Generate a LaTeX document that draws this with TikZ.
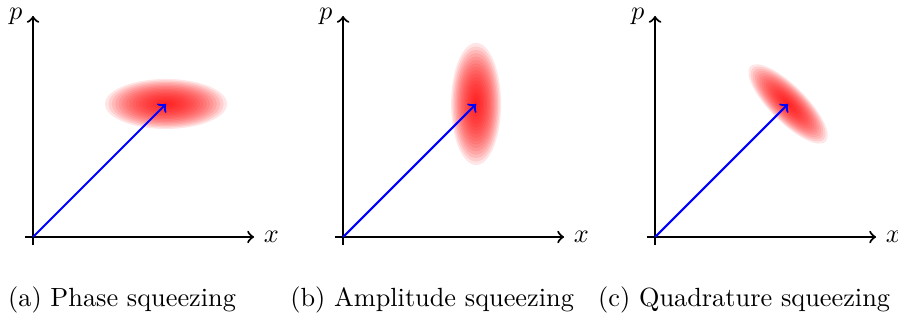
\documentclass[tikz,border=0pt]{standalone}
\usepackage{amsmath}
\usetikzlibrary{positioning}
\colorlet{veccol}{blue}
\colorlet{blobcol}{red}
\tikzstyle{axis}=[->,thick,black]
\tikzstyle{vector}=[->,thick,veccol]
\tikzset{
  blob/.style={fill=blobcol,fill opacity=#1,draw=none},
  blob/.default=0.1}
\begin{document}
\begin{tikzpicture}
  \def\len{2.953}
  \def\tail{0.107}
  \def\ax{1.777}
  \def\NB{18}
  \useasboundingbox (-0.441,-1.122) rectangle (11.556,3.166);

  \foreach \name/\sx/\rot/\ra/\rb/\captext in {
      a/0/0/0.815/0.334/Phase squeezing,
      b/4.142/90/0.815/0.334/Amplitude squeezing,
      c/8.31/-45/0.71/0.24/Quadrature squeezing}{
    \begin{scope}[xshift=\sx cm]
      \coordinate (O\name) at (0,0);
      \coordinate (X\name) at (\len,0);
      \coordinate (Y\name) at (0,\len);
      \coordinate (P\name) at (\ax,\ax);

      % SQUEEZED STATE
      \foreach \k [evaluate={\s=1-(\k-1)/\NB;}] in {1,...,\NB}{
        \fill[blob,rotate around={\rot:(\ax,\ax)}]
          (\ax,\ax) ellipse ({\s*\ra} and {\s*\rb});
      }

      % AXES
      \draw[axis] (-\tail,0) -- (X\name) node[right] (xl\name) {$x$};
      \draw[axis] (0,-\tail) -- (Y\name);
      \node[inner sep=0pt] (pl\name) at (-0.23,2.95) {$p$};

      % AMPLITUDE
      \draw[vector] (O\name) -- (P\name);

      \node (cap\name) at (1.19,-0.842) {(\name) \captext};
    \end{scope}
  }
\end{tikzpicture}
\end{document}
